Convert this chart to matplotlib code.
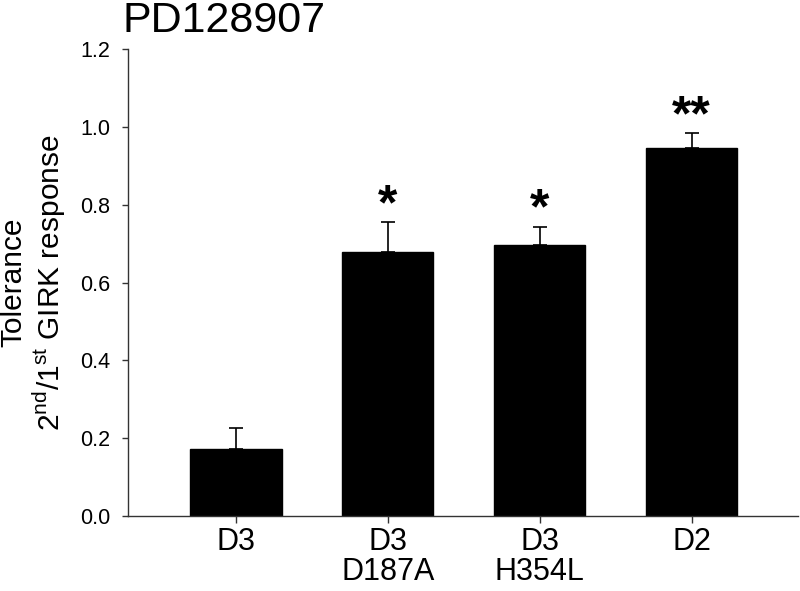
import matplotlib
matplotlib.use("Agg")
import matplotlib.pyplot as plt

plt.rcParams['font.family'] = ['Liberation Sans', 'DejaVu Sans']

categories = ["D3", "D3\nD187A", "D3\nH354L", "D2"]
values = [0.171, 0.679, 0.698, 0.945]
errors = [0.054, 0.076, 0.046, 0.039]
stars = ["", "*", "*", "**"]
yticks = [0.0, 0.2, 0.4, 0.6, 0.8, 1.0, 1.2]

fig = plt.figure(figsize=(8, 5.91), dpi=100)
ax = fig.add_axes([0.16, 0.1269, 0.8375, 0.7897])

x = list(range(len(categories)))
ax.bar(x, values, width=0.6, color="black", edgecolor="black", zorder=2)
ax.errorbar(x, values, yerr=[[0] * len(errors), errors], fmt="none", ecolor="black",
            elinewidth=1.2, capsize=5, capthick=1.2, zorder=1)

for xi, v, e, s in zip(x, values, errors, stars):
    if s:
        ax.annotate(s, (xi, v + e), xytext=(0, -5), textcoords="offset points",
                    ha="center", va="bottom", fontsize=36, fontweight="bold")

ax.set_xlim(-0.711, 3.70)
ax.set_ylim(0, 1.2)
ax.set_yticks(yticks)
ax.set_yticklabels([f"{t:.1f}" for t in yticks])
ax.set_xticks(x)
ax.set_xticklabels(categories, fontsize=22, linespacing=1.0)
ax.tick_params(axis="y", labelsize=15.5, length=4, width=1, pad=9, direction="out",
               color="#333333")
ax.tick_params(axis="x", length=5, width=1, pad=3, direction="out", color="#333333")
for side in ["top", "right"]:
    ax.spines[side].set_visible(False)
for side in ["left", "bottom"]:
    ax.spines[side].set_linewidth(1)
    ax.spines[side].set_color("#333333")

fig.text(27 / 800, 0.5 * (0.1269 + 0.9166), "Tolerance", rotation=90,
         fontsize=21.5, ha="right", va="center")
fig.text(68 / 800, 0.5 * (0.1269 + 0.9166),
         "2$^{\\mathregular{nd}}$/1$^{\\mathregular{st}}$ GIRK response", rotation=90,
         fontsize=21.5, ha="right", va="center")
fig.text(122 / 800, 1 - 32 / 591, "PD128907", fontsize=31, ha="left", va="baseline")

fig.savefig("out.png", dpi=100)
